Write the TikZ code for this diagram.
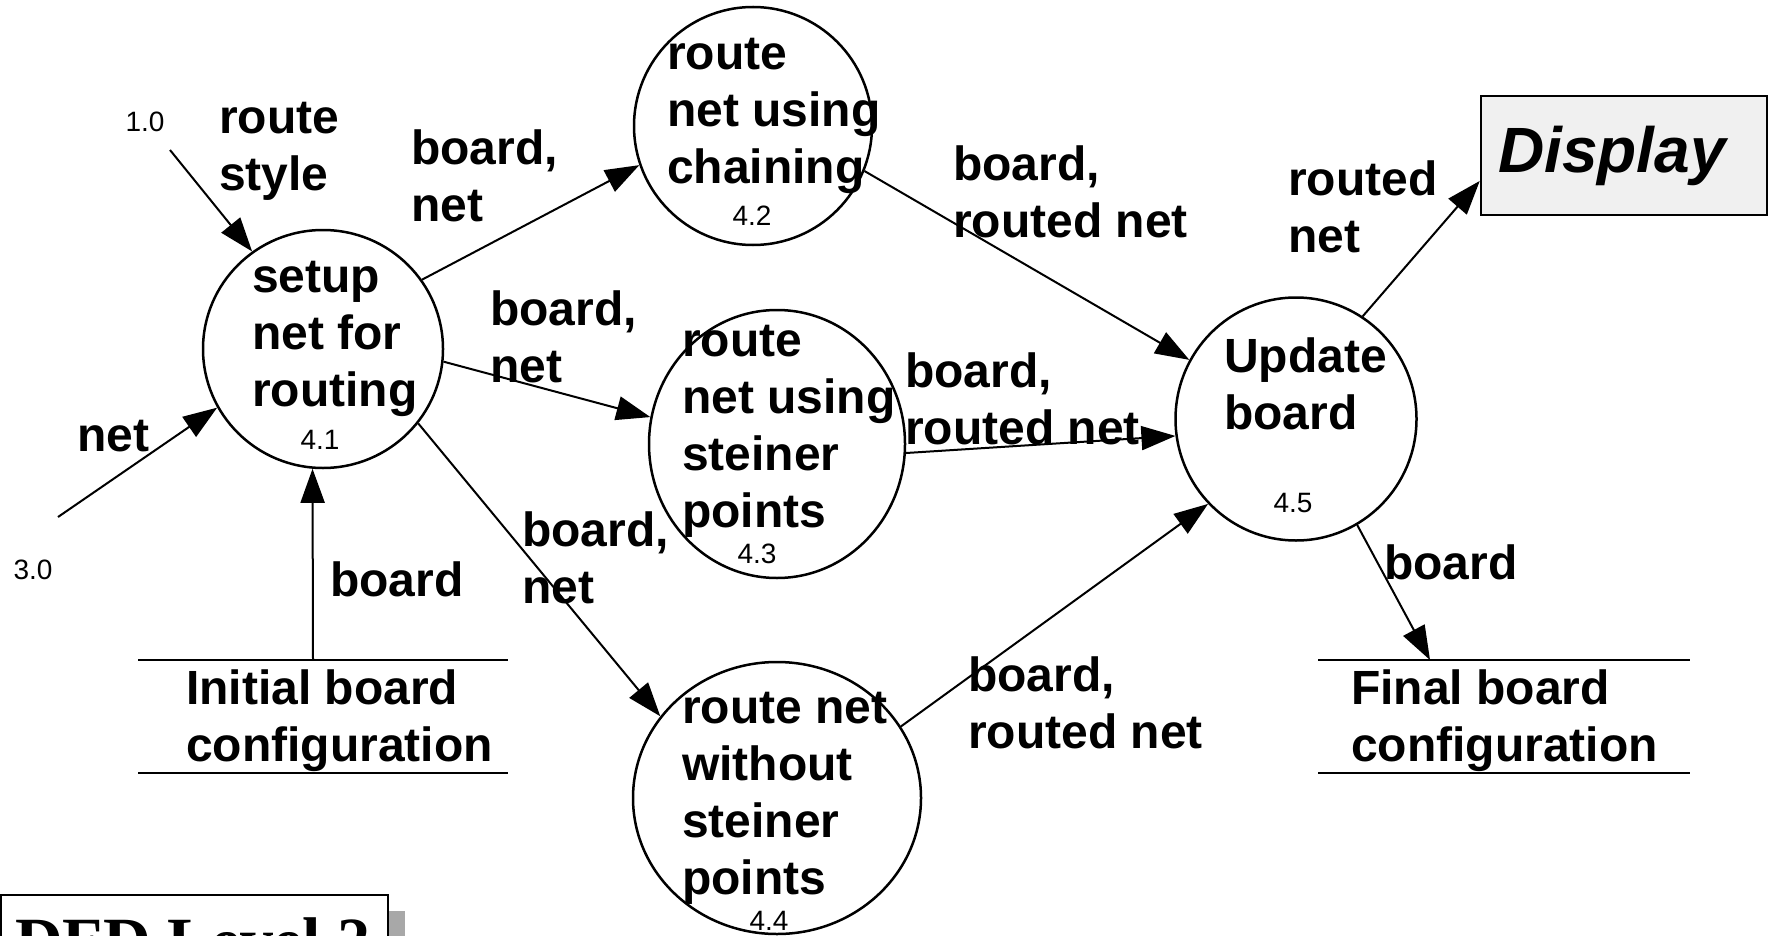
\documentclass[tikz,border=0pt]{standalone}
\usepackage{fontspec}
\setmainfont{Liberation Sans}
\newfontfamily\dfdfont{Liberation Serif}
\usetikzlibrary{arrows.meta,shapes.geometric,calc}
\definecolor{boxgray}{HTML}{F0F0F0}
\definecolor{shadowgray}{HTML}{A8A8A8}
\begin{document}
\begin{tikzpicture}[x=1pt,y=-1pt,
  proc/.style={ellipse, draw, line width=2.5pt, inner sep=0pt},
  lbl/.style={anchor=west, align=left, inner sep=0pt, font=\fontsize{48}{57}\selectfont\bfseries},
  num/.style={inner sep=0pt, font=\fontsize{28}{30}\selectfont},
  flow/.style={line width=2pt, -{Triangle[length=34pt,width=24pt]}},
  storeline/.style={line width=2pt}
]
\path[use as bounding box] (0,0) rectangle (1779,936);
\clip (0,0) rectangle (1779,936);

% processes
\node[proc, minimum width=240pt, minimum height=238pt] (p1) at (323,349) {};
\node[proc, minimum width=238pt, minimum height=238pt] (p2) at (753,126) {};
\node[proc, minimum width=256pt, minimum height=268pt] (p3) at (777,444) {};
\node[proc, minimum width=288pt, minimum height=272pt] (p4) at (777,798) {};
\node[proc, minimum width=241pt, minimum height=243pt] (p5) at (1296,419) {};

% process texts
\node[lbl] (t1) at (252,339) {setup\\net for\\routing};
\node[num] (n1) at (320,440) {4.1};
\node[lbl] (t2) at (667,116) {route\\net using\\chaining};
\node[num] (n2) at (752,216) {4.2};
\node[lbl] (t3) at (682,431) {route\\net using\\steiner\\points};
\node[num] (n3) at (757,554) {4.3};
\node[lbl] (t4) at (682,798) {route net\\without\\steiner\\points};
\node[num] (n4) at (769,921) {4.4};
\node[lbl] (t5) at (1224,384) {Update\\board};
\node[num] (n5) at (1293,503) {4.5};

% external entity
\node[draw, line width=2.5pt, fill=boxgray, minimum width=286pt, minimum height=119pt,
      text width=252pt, align=left,
      inner sep=0pt, font=\fontsize{64}{70}\selectfont\bfseries\itshape] (disp) at (1624,155.5) {Display};

% stores
\draw[storeline] (138,660) -- (508,660);
\draw[storeline] (138,773) -- (508,773);
\node[lbl] (s1) at (186,721) {Initial board\\configuration};
\coordinate (s1top) at (313,660);
\draw[storeline] (1318,660) -- (1690,660);
\draw[storeline] (1318,773) -- (1690,773);
\node[lbl] (s2) at (1351,721) {Final board\\configuration};
\coordinate (s2top) at (1430,660);

% outside sources
\node[num] (src1) at (145,122) {1.0};
\coordinate (c10) at (170,150);
\node[num] (src3) at (33,570) {3.0};
\coordinate (c30) at (58,517);

% flows
\draw[flow] (c10) -- (p1.126);
\draw[flow] (c30) -- (p1.209);
\draw[flow] (s1top) -- (p1.265);
\draw[flow] (p1.35) -- (p2.199);
\draw[flow] (p1.-6) -- (p3.168);
\draw[flow] (p1.-38) -- (p4.145);
\draw[flow] (p2.-22) -- (p5.151);
\draw[flow] (p3.-4) -- (p5.188);
\draw[flow] (p4.30) -- (p5.224);
\draw[flow] (p5.57) -- (disp.190);
\draw[flow] (p5.-60) -- (s2top);

% flow labels
\node[lbl] (l1) at (219,151) {route\\style};
\node[lbl] (l2) at (77,436) {net};
\node[lbl] (l3) at (330,579) {board};
\node[lbl] (l4) at (411,176) {board,\\net};
\node[lbl] (l5) at (490,337) {board,\\net};
\node[lbl] (l6) at (522,558) {board,\\net};
\node[lbl] (l7) at (953,192) {board,\\routed net};
\node[lbl] (l8) at (905,399) {board,\\routed net};
\node[lbl] (l9) at (968,703) {board,\\routed net};
\node[lbl] (l10) at (1288,207) {routed\\net};
\node[lbl] (l11) at (1384,562) {board};

% title box
\fill[shadowgray] (388,911) rectangle (405,945);
\draw[line width=2.5pt, fill=white] (1,895) rectangle (388,950);
\node[anchor=base west, inner sep=0pt, font=\dfdfont\bfseries\fontsize{66}{70}\selectfont] (dfd) at (15,963) {DFD Level 2};
\end{tikzpicture}
\end{document}
